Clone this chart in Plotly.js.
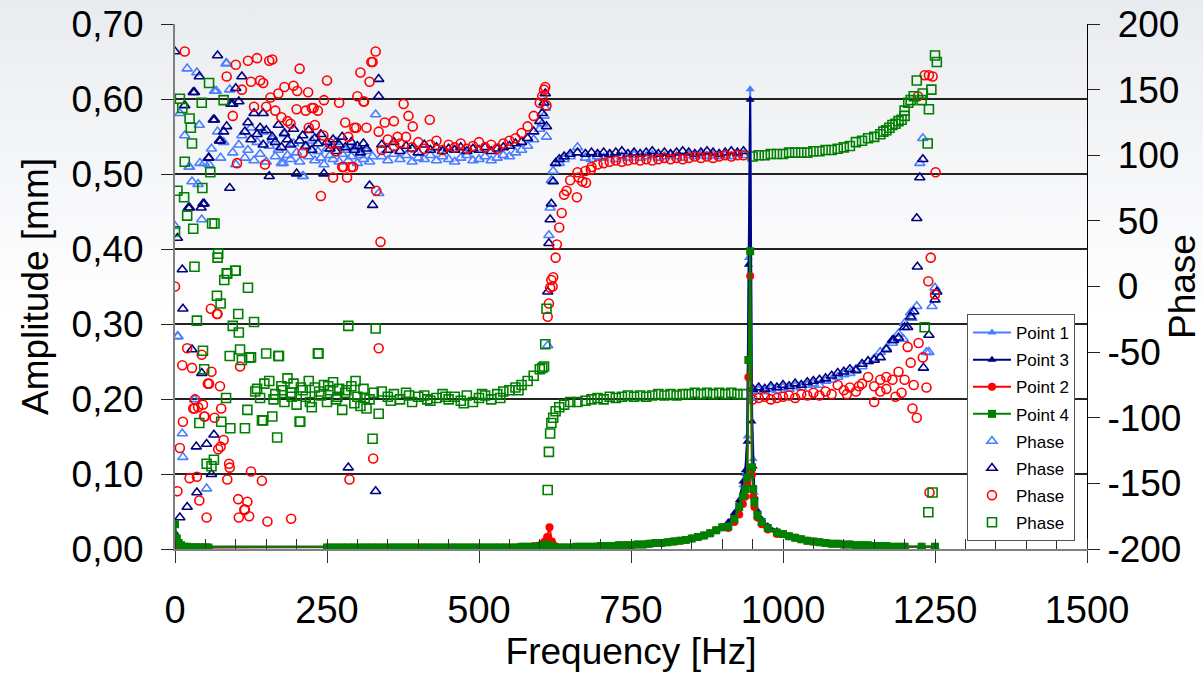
<!DOCTYPE html>
<html><head><meta charset="utf-8">
<script src="https://cdn.plot.ly/plotly-3.0.1.min.js"></script>
<style>
html,body{margin:0;padding:0;}
body{width:1203px;height:677px;background:linear-gradient(to bottom,#e9ecef 0px,#f4f5f7 150px,#ffffff 320px,#ffffff 677px);}
#chart{width:1203px;height:677px;}
</style></head>
<body><div id="chart"></div>
<script>
// ---------- Phase frequency grids (Hz) ----------
const fLow = [0,4,8,12,16,20,24,28,32,36,40,44,48,52,56];
const fMid = [60,65,70,75,80,85,90,95,100,105,110,115,120,125,130,135,140,145,150,155,160,165,170,175,180,185,190,195,200,205,210,215,220,225,230,235,240,245,250,255,260,265,270,275,280,285,290,295,300,305,310,315,320,325,330,335];
const fFlat1 = [340,350,360,370,380,390,400,410,420,430,440,450,460,470,480,490,500,510,520,530,540,550,560,570,580,590,600];
const fTr = [604,607,609,611,613,615,617,619,622,626,632,640,650,662];
const fFlat2 = [675,685,695,705,715,725,735,745,755,765,775,785,795,805,815,825,835,845,855,865,875,885,895,905,915,925,935];
const fHigh = [950,960,970,980,990,1000,1010,1020,1030,1040,1050,1060,1070,1080,1090,1100,1110,1120,1130,1140,1150,1160,1170,1180,1190,1200,1210,1220,1230,1240,1250];

// ---------- Phase, Point 1 (light blue triangles) ----------
const ph1Low = [46,-38,132,-112,115,166,91,80,-86,163,123,51,94,-154,93];
const ph1Mid = [105,149,118,98,110,170,150,102,93,108,115,98,104,121,96,110,101,118,95,107,112,99,104,94,116,100,97,109,102,95,84,106,99,111,96,103,98,93,105,100,97,110,95,101,104,96,99,106,94,100,97,103,95,99,131,71];
const ph1Flat1 = [99,96,101,97,100,95,98,97,100,96,99,97,95,98,100,96,97,99,96,98,100,99,102,104,107,112,120];
const ph1Tr = [124,130,136,114,-45,39,60,81,88,94,94,97,99,106];
const ph1Flat2 = [98,97,99,98,100,97,99,98,100,98,99,100,98,99,100,99,98,100,99,100,99,100,99,100,99,101,100];
const ph1High = [-80,-79,-80,-78,-79,-77,-78,-76,-77,-75,-74,-75,-72,-71,-69,-67,-66,-63,-61,-57,-55,-50,-47,-43,-36,-28,-20,-15,113,-50,-1];
const ph1ExF = [5,13,23,38,41,68,84,178,211,1225,1236,1245,1212,1198];
const ph1ExP = [-38,-130,91,78,94,149,170,94,84,94,-50,-15,-24,-40];

// ---------- Phase, Point 3 (navy triangles) ----------
const ph3Low = [179,37,-176,13,138,-168,60,-48,148,-157,160,-66,63,-120,98];
const ph3Mid = [-143,127,176,111,118,122,75,139,151,141,160,118,125,112,132,116,121,108,119,84,114,110,123,106,117,112,108,120,86,111,115,107,119,104,113,109,116,86,110,105,112,103,108,114,106,-138,110,104,107,102,109,105,77,62,-156,158];
const ph3Flat1 = [108,104,110,103,107,105,102,108,104,106,103,105,104,106,103,105,104,106,103,105,106,107,109,110,113,118,126];
const ph3Tr = [132,140,147,122,-4,33,51,63,80,94,97,99,101,102];
const ph3Flat2 = [101,102,101,102,101,102,103,101,102,101,102,103,101,102,101,102,103,102,101,102,103,102,101,102,103,102,103];
const ph3High = [-78,-77,-78,-76,-77,-75,-76,-74,-75,-73,-72,-71,-70,-68,-66,-65,-63,-64,-59,-57,-56,-54,-48,-41,-39,-31,-23,52,97,-37,-10];
const ph3ExF = [13,22,30,35,43,46,55,63,64,73,92,1215,1221,1225,1231,1253,1205,1182,145,335];
const ph3ExP = [-17,60,148,-122,60,63,98,127,-113,111,139,-19,15,83,-62,-4,-31,-41,132,145];

// ---------- Phase, Point 2 (red circles) ----------
const ph2Low = [0,-156,-123,-60,179,-47,-146,-62,-93,-145,-163,-52,-99,-176,-74];
const ph2Mid = [-65,-100,-21,-122,-117,160,-138,130,169,-176,150,-170,172,156,137,174,157,155,137,172,173,134,147,129,152,126,124,153,135,166,102,134,121,136,123,134,69,142,157,109,83,103,140,91,125,114,91,121,145,163,141,121,156,171,179,118];
const ph2Flat1 = [104,112,107,109,114,106,110,105,108,111,104,108,106,109,105,107,110,106,108,105,109,111,113,117,122,130,140];
const ph2Tr = [145,150,152,138,-23,-13,-1,5,7,22,45,70,81,87];
const ph2Flat2 = [88,91,93,94,95,96,95,96,97,96,97,96,97,98,97,98,97,98,99,98,99,98,99,100,99,100,100];
const ph2High = [-86,-85,-84,-86,-85,-84,-83,-85,-82,-83,-81,-83,-80,-82,-75,-79,-77,-80,-74,-69,-76,-71,-69,-71,-65,-71,-58,-100,-54,161,-6];
const ph2ExF = [13,30,33,38,46,49,54,59,69,71,74,76,86,89,104,107,114,119,122,125,143,152,191,287,326,335,338,148,102,157,201,219,228,244,277,283,293,298,311,323,331,345,360,366,376,384,391,419,621,628,636,644,661,664,670,676,684,1205,1213,1215,1223,1236,1233,1246,1222,1251,1243,1239,1241,1195,1150,1170,1185,1105,1125,1160];
const ph2ExP = [-103,-93,-86,-92,-90,-99,-74,-17,-21,-124,-76,-93,-147,-135,-162,-61,-170,-164,-175,-141,-148,-179,-177,-147,-131,-47,34,93,94,144,149,148,136,115,91,83,91,121,141,171,73,125,126,114,139,130,122,127,0,32,56,73,68,83,80,79,89,-46,-93,-75,-43,-77,161,160,145,87,22,4,-157,-81,-88,-78,-84,-82,-76,-80];

// ---------- Phase, Point 4 (green squares) ----------
const ph4Low = [42,73,143,136,95,54,128,109,15,-26,-104,140,-63,-135,155];
const ph4Mid = [-137,48,22,-13,142,10,-53,-30,12,-35,-56,-108,-1,-54,-27,-78,-85,-102,-51,-72,-99,-82,-53,-76,-88,-70,-81,-74,-90,-103,-79,-84,-72,-92,-77,-51,-83,-75,-88,-79,-73,-86,-78,-94,-81,-30,-76,-89,-84,-91,-78,-93,-86,-116,-32,-97];
const ph4Flat1 = [-80,-84,-82,-86,-81,-88,-84,-83,-87,-85,-82,-86,-84,-87,-83,-88,-85,-83,-86,-82,-80,-79,-77,-75,-72,-68,-63];
const ph4Tr = [-62,-61,-44,-17,-155,-126,-112,-104,-100,-95,-92,-90,-88,-88];
const ph4Flat2 = [-87,-86,-85,-86,-84,-85,-84,-83,-84,-83,-84,-83,-82,-83,-82,-83,-82,-82,-81,-82,-81,-82,-81,-82,-81,-82,-82];
const ph4High = [99,100,100,101,101,101,102,102,102,102,103,103,104,104,105,106,107,110,111,113,114,116,119,123,126,134,142,157,147,135,176];
const ph4ExF = [15,26,30,45,46,58,61,64,69,71,76,81,84,86,91,99,104,107,119,122,143,168,171,206,236,132,147,162,177,192,207,222,237,252,267,282,297,312,327,355,385,415,445,475,505,535,565,1195,1206,1215,1228,1233,1238,1239,1244,1246,1253,1185,1175,1165,1200];
const ph4ExP = [68,121,44,75,-49,87,48,-132,-7,25,-103,5,-85,10,-108,12,-21,-48,-94,-54,-102,-115,-53,-103,-51,-80,-74,-86,-79,-84,-77,-88,-80,-76,-84,-79,-72,-85,-81,-87,-83,-86,-84,-89,-82,-85,-79,127,140,145,142,-31,109,-172,150,-157,171,124,121,118,130];

// ---------- Amplitude frequency grid (Hz) ----------
const aFLow = [0,3,6,10,15,20,25,30,35,40,45,50,55];
const aFMid = [250,260,270,280,290,300,310,320,330,340,350,360,370,380,390,400,410,420,430,440,450,460,470,480,490,500,510,520,530,540,550,560,570,580,590,600];
const aFRes = [604,608,612,616,620,625];
const aFRise = [630,640,650,660,670,680,690,700,710,720,730,740,750,760,770,780,790,800,810,820,830,840,850,860,870,880,890,900];
const aFPeak = [910,920,928,934,938,941,943,946,949,951,953,958,965,975,990];
const aFTail = [1000,1010,1020,1030,1040,1050,1060,1070,1080,1090,1100,1110,1120,1130,1140,1150,1160,1170,1180,1190,1200];
const aFEnd = [1228,1250];

// ---------- Amplitude values (mm) ----------
const amp1Low = [0.020,0.012,0.007,0.004,0.003,0.003,0.002,0.002,0.002,0.002,0.002,0.002,0.002];
const amp3Low = [0.022,0.012,0.007,0.004,0.003,0.003,0.002,0.002,0.002,0.002,0.002,0.002,0.002];
const amp2Low = [0.006,0.004,0.003,0.003,0.002,0.002,0.002,0.002,0.002,0.002,0.002,0.002,0.002];
const amp4Low = [0.033,0.014,0.008,0.005,0.003,0.003,0.002,0.002,0.002,0.002,0.002,0.002,0.002];
const ampMid = [0.002,0.002,0.002,0.002,0.002,0.002,0.002,0.002,0.002,0.002,0.002,0.002,0.002,0.002,0.002,0.002,0.002,0.002,0.002,0.002,0.002,0.002,0.002,0.002,0.002,0.002,0.002,0.002,0.002,0.002,0.002,0.002,0.003,0.003,0.003,0.004];
const amp2Mid = [0.002,0.002,0.002,0.002,0.002,0.002,0.002,0.002,0.002,0.002,0.002,0.002,0.002,0.002,0.002,0.002,0.002,0.002,0.002,0.002,0.002,0.002,0.002,0.002,0.002,0.002,0.002,0.002,0.002,0.002,0.002,0.002,0.003,0.003,0.004,0.005];
const amp1Res = [0.005,0.007,0.010,0.008,0.004,0.003];
const amp3Res = [0.005,0.006,0.008,0.007,0.004,0.003];
const amp2Res = [0.007,0.010,0.016,0.029,0.010,0.004];
const amp4Res = [0.004,0.005,0.006,0.004,0.003,0.002];
const ampRise = [0.002,0.002,0.002,0.003,0.003,0.003,0.003,0.004,0.004,0.004,0.005,0.005,0.005,0.006,0.006,0.007,0.008,0.008,0.009,0.010,0.011,0.012,0.014,0.016,0.018,0.021,0.025,0.029];
const amp1Peak = [0.035,0.046,0.062,0.085,0.100,0.150,0.388,0.613,0.200,0.120,0.075,0.052,0.040,0.031,0.024];
const amp3Peak = [0.036,0.048,0.065,0.090,0.105,0.143,0.379,0.599,0.170,0.110,0.070,0.050,0.039,0.030,0.024];
const amp2Peak = [0.028,0.036,0.046,0.060,0.070,0.087,0.229,0.364,0.099,0.070,0.056,0.042,0.033,0.026,0.020];
const amp4Peak = [0.030,0.040,0.056,0.070,0.080,0.095,0.252,0.397,0.109,0.080,0.063,0.045,0.036,0.028,0.022];
const ampTail = [0.020,0.017,0.015,0.013,0.011,0.010,0.009,0.008,0.007,0.007,0.006,0.006,0.005,0.005,0.005,0.004,0.004,0.004,0.003,0.003,0.003];
const ampEnd = [0.003,0.003];

const seriesNames = ['Point 1','Point 3','Point 2','Point 4'];
const phaseName = 'Phase';

// ---------- Phase axis tick labels (hyphen minus, digits aligned) ----------
const phaseTickVals = [-200,-150,-100,-50,0,50,100,150,200];
const phaseTickText = ['-200','-150','-100','-50','\u00A00','\u00A050','\u00A0100','\u00A0150','\u00A0200'];

// ---------- build ----------
const cat = (...a) => [].concat(...a);
const fPh = cat(fLow,fMid,fFlat1,fTr,fFlat2,fHigh);
const fAmp = cat(aFLow,aFMid,aFRes,aFRise,aFPeak,aFTail,aFEnd);

const LB = '#4a7dff', NV = '#000080', RD = '#ff0000', GR = '#008000';

function phaseTrace(y, exF, exP, color, symbol, rank){
  return {type:'scatter', mode:'markers', name:phaseName, x:cat(fPh, exF), y:cat(y, exP),
    xaxis:'x', yaxis:'y', legendrank:rank, legendgroup:'g'+rank, cliponaxis:true,
    marker:{symbol:symbol, size:9, color:color, line:{width:1.6, color:color}}};
}
function ampTrace(y, color, symbol, name, rank){
  return {type:'scatter', mode:'lines+markers', name:name, x:fAmp, y:y,
    xaxis:'x', yaxis:'y2', legendrank:rank, legendgroup:'g'+rank,
    line:{color:color, width:2}, marker:{symbol:symbol, size:8, color:color}};
}

const data = [
  phaseTrace(cat(ph1Low,ph1Mid,ph1Flat1,ph1Tr,ph1Flat2,ph1High), ph1ExF, ph1ExP, LB, 'triangle-up-open', 5),
  phaseTrace(cat(ph3Low,ph3Mid,ph3Flat1,ph3Tr,ph3Flat2,ph3High), ph3ExF, ph3ExP, NV, 'triangle-up-open', 6),
  phaseTrace(cat(ph2Low,ph2Mid,ph2Flat1,ph2Tr,ph2Flat2,ph2High), ph2ExF, ph2ExP, RD, 'circle-open', 7),
  phaseTrace(cat(ph4Low,ph4Mid,ph4Flat1,ph4Tr,ph4Flat2,ph4High), ph4ExF, ph4ExP, GR, 'square-open', 8),
  ampTrace(cat(amp1Low,ampMid,amp1Res,ampRise,amp1Peak,ampTail,ampEnd), LB, 'triangle-up', seriesNames[0], 1),
  ampTrace(cat(amp3Low,ampMid,amp3Res,ampRise,amp3Peak,ampTail,ampEnd), NV, 'triangle-up', seriesNames[1], 2),
  ampTrace(cat(amp2Low,amp2Mid,amp2Res,ampRise,amp2Peak,ampTail,ampEnd), RD, 'circle', seriesNames[2], 3),
  ampTrace(cat(amp4Low,ampMid,amp4Res,ampRise,amp4Peak,ampTail,ampEnd), GR, 'square', seriesNames[3], 4)
];

const FONT = 'Liberation Sans, Arial, sans-serif';
const layout = {
  width:1203, height:677,
  margin:{l:175, r:116, t:24, b:128},
  paper_bgcolor:'rgba(0,0,0,0)', plot_bgcolor:'rgba(0,0,0,0)',
  separators:', ',
  font:{family:FONT, color:'#000'},
  showlegend:true,
  legend:{x:0.8684, y:0.4476, xanchor:'left', yanchor:'top', bgcolor:'#ffffff',
    bordercolor:'#555', borderwidth:1, font:{size:17, family:FONT}, tracegroupgap:2, itemwidth:38},
  xaxis:{range:[0,1500], tick0:0, dtick:250, ticks:'outside', ticklen:12, tickcolor:'#333', tickwidth:1,
    minor:{ticks:'inside', dtick:50, ticklen:10, tickcolor:'#333', tickwidth:1},
    showline:true, linecolor:'#808080', linewidth:2, showgrid:false, zeroline:false,
    tickfont:{size:38}, ticklabelstandoff:14, automargin:false,
    title:{text:'Frequency [Hz]', font:{size:37}, standoff:9}},
  yaxis:{side:'right', range:[-200,200], tickmode:'array', tickvals:phaseTickVals, ticktext:phaseTickText,
    ticks:'outside', ticklen:12, tickcolor:'#222', tickwidth:1,
    showline:true, linecolor:'#000', linewidth:1, showgrid:false, zeroline:false,
    tickfont:{size:37}, ticklabelstandoff:0, automargin:false,
    title:{text:'Phase', font:{size:37}, standoff:2}},
  yaxis2:{overlaying:'y', side:'left', range:[0,0.7], tick0:0, dtick:0.1, tickformat:'.2f',
    ticks:'outside', ticklen:12, tickcolor:'#222', tickwidth:1,
    showline:true, linecolor:'#808080', linewidth:2, showgrid:true, gridcolor:'#222', gridwidth:1.2, zeroline:false,
    tickfont:{size:37}, ticklabelstandoff:10, automargin:false,
    title:{text:'Amplitude [mm]', font:{size:37}, standoff:12}},
  yaxis3:{overlaying:'y', side:'right', range:[-200,200], tickmode:'array', tickvals:phaseTickVals, ticks:'inside', ticklen:12,
    tickcolor:'#222', tickwidth:1, showticklabels:false, showline:false, showgrid:false, zeroline:false}
};

Plotly.newPlot('chart', data, layout, {displayModeBar:false, staticPlot:true});
</script>
</body></html>
